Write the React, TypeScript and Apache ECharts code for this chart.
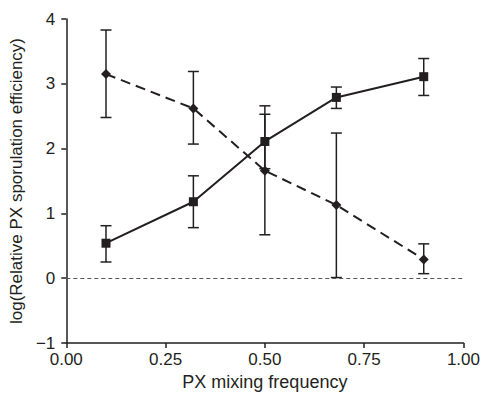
import React, { useEffect, useRef } from "react";
import * as echarts from "echarts";

const xValues = [0.1, 0.32, 0.5, 0.68, 0.9];
// Solid line, square markers
const squareMean = [0.54, 1.18, 2.11, 2.79, 3.11];
const squareLow = [0.25, 0.78, 1.69, 2.62, 2.82];
const squareHigh = [0.81, 1.58, 2.53, 2.95, 3.39];
// Dashed line, diamond markers
const diamondMean = [3.15, 2.62, 1.66, 1.13, 0.29];
const diamondLow = [2.48, 2.07, 0.67, 0.01, 0.07];
const diamondHigh = [3.83, 3.19, 2.66, 2.24, 0.53];

const INK = "#231f20";
const FONT = "Liberation Sans, Arial, sans-serif";

function errorSeries(low: number[], high: number[]) {
  return {
    type: "custom",
    z: 3,
    data: xValues.map((x, i) => [x, low[i], high[i]]),
    renderItem: (params: any, api: any) => {
      const x = api.value(0);
      const lo = api.coord([x, api.value(1)]);
      const hi = api.coord([x, api.value(2)]);
      const hw = 5.5;
      const style = { stroke: INK, lineWidth: 1.5 };
      return {
        type: "group",
        children: [
          { type: "line", shape: { x1: lo[0], y1: lo[1], x2: hi[0], y2: hi[1] }, style },
          { type: "line", shape: { x1: lo[0] - hw, y1: lo[1], x2: lo[0] + hw, y2: lo[1] }, style },
          { type: "line", shape: { x1: hi[0] - hw, y1: hi[1], x2: hi[0] + hw, y2: hi[1] }, style },
        ],
      };
    },
  };
}

export default function App() {
  const ref = useRef<HTMLDivElement>(null);
  useEffect(() => {
    const chart = echarts.init(ref.current!, null, { renderer: "svg" });
    chart.setOption({
      animation: false,
      grid: { left: 64, right: 18, top: 19, bottom: 56 },
      xAxis: {
        type: "value",
        min: 0,
        max: 1,
        interval: 0.25,
        name: "PX mixing frequency",
        nameLocation: "middle",
        nameGap: 25,
        nameTextStyle: { fontSize: 18, color: INK, fontFamily: FONT },
        axisLine: { onZero: false, lineStyle: { color: INK, width: 1.5 } },
        axisTick: { show: true, length: 5, lineStyle: { color: INK, width: 1.5 } },
        axisLabel: {
          fontSize: 17,
          color: INK,
          fontFamily: FONT,
          margin: 8,
          formatter: (v: number) => v.toFixed(2),
        },
        splitLine: { show: false },
      },
      yAxis: {
        type: "value",
        min: -1,
        max: 4,
        interval: 1,
        name: "log(Relative PX sporulation efficiency)",
        nameLocation: "middle",
        nameGap: 32,
        nameTextStyle: { fontSize: 17, color: INK, fontFamily: FONT },
        axisLine: { show: true, lineStyle: { color: INK, width: 1.5 } },
        axisTick: { show: true, length: 5, lineStyle: { color: INK, width: 1.5 } },
        axisLabel: {
          fontSize: 17,
          color: INK,
          fontFamily: FONT,
          margin: 11,
          formatter: (v: number) => (v < 0 ? "\u2212" + Math.abs(v) : String(v)),
        },
        splitLine: { show: false },
      },
      series: [
        {
          type: "line",
          data: xValues.map((x) => [x, 0]),
          symbol: "none",
          lineStyle: { width: 0, opacity: 0 },
          silent: true,
          markLine: {
            silent: true,
            symbol: "none",
            label: { show: false },
            lineStyle: { color: "#555", type: [4, 3], width: 1 },
            data: [{ yAxis: 0 }],
          },
        },
        errorSeries(squareLow, squareHigh),
        errorSeries(diamondLow, diamondHigh),
        {
          type: "line",
          z: 4,
          data: xValues.map((x, i) => [x, squareMean[i]]),
          symbol: "rect",
          symbolSize: 9,
          itemStyle: { color: INK },
          lineStyle: { color: INK, width: 2, type: "solid" },
        },
        {
          type: "line",
          z: 4,
          data: xValues.map((x, i) => [x, diamondMean[i]]),
          symbol: "diamond",
          symbolSize: 10,
          itemStyle: { color: INK },
          lineStyle: { color: INK, width: 2, type: [10, 6] },
        },
      ],
    });
    return () => chart.dispose();
  }, []);
  return <div ref={ref} style={{ width: 483, height: 399, position: "absolute", left: 0, top: 0 }} />;
}
